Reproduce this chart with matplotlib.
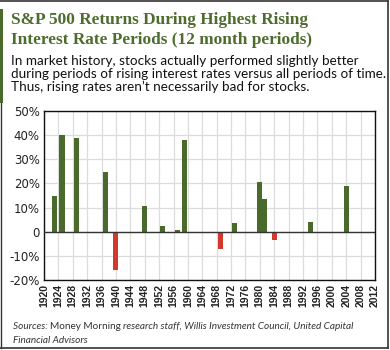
import matplotlib.pyplot as plt
from matplotlib.lines import Line2D
from matplotlib.patches import Rectangle

# 数据：年份与 12 个月回报率（%）
YEARS = [1923, 1925, 1929, 1937, 1940, 1948, 1953, 1957, 1959,
         1969, 1973, 1980, 1981.3, 1984, 1994, 2004]
RETURNS = [15, 40, 38.8, 24.7, -16, 10.5, 2.5, 0.8, 38,
           -7, 3.8, 20.5, 13.5, -3.5, 4.2, 19]
Y_TICKS = [-20, -10, 0, 10, 20, 30, 40, 50]
Y_LABELS = ['-20%', '-10%', '0', '10%', '20%', '30%', '40%', '50%']
X_TICKS = list(range(1920, 2013, 4))

GREEN = '#4a6a2b'
RED = '#d2382c'
W, H = 390, 350


def fy(px):
    return 1 - px / H


fig = plt.figure(figsize=(W / 100, H / 100), dpi=100)

# 标题与说明文字
fig.text(11 / W, fy(24), 'S&P 500 Returns During Highest Rising', family='Liberation Serif',
         weight='bold', size=12.4, color='#4d6c2d', va='baseline')
fig.text(11 / W, fy(44), 'Interest Rate Periods (12 month periods)', family='Liberation Serif',
         weight='bold', size=12.4, color='#4d6c2d', va='baseline')
sub = ['In market history, stocks actually performed slightly better',
       'during periods of rising interest rates versus all periods of time.',
       'Thus, rising rates aren\u2019t necessarily bad for stocks.']
for i, line in enumerate(sub):
    fig.text(11 / W, fy(65 + 13 * i), line, family='Lato', size=9.7, color='#111111', va='baseline')

# 边框与左侧绿色竖条
fig.add_artist(Line2D([0, 1 - 2 / W], [fy(1), fy(1)], color='#333333', lw=1.2))
fig.add_artist(Line2D([1 - 2 / W, 1 - 2 / W], [fy(1), fy(348)], color='#333333', lw=1.2))
fig.add_artist(Line2D([0, 1 - 2 / W], [fy(348), fy(348)], color='#333333', lw=1.2))
fig.add_artist(Line2D([0.5 / W, 0.5 / W], [fy(103), fy(348)], color='#333333', lw=1.0))
fig.add_artist(Rectangle((0, fy(103)), 3.5 / W, (103 - 9) / H, color=GREEN, lw=0))

ax = fig.add_axes([44 / W, fy(280), (375 - 44) / W, (280 - 111) / H])
colors = [GREEN if v >= 0 else RED for v in RETURNS]
ax.bar(YEARS, RETURNS, width=1.4, color=colors, zorder=3)
ax.axhline(0, color='#333333', lw=1.0, zorder=4)
ax.set_xlim(1920, 2012)
ax.set_ylim(-20, 50)
ax.set_xticks(X_TICKS)
ax.set_xticklabels([str(x) for x in X_TICKS], rotation=90, family='Liberation Sans',
                   weight='bold', size=7.5, color='#222222')
ax.set_yticks(Y_TICKS)
ax.set_yticklabels(Y_LABELS, family='DejaVu Sans', size=8.5, color='#222222')
ax.tick_params(length=0, pad=3)
ax.grid(True, color='#dcdcdc', lw=0.9, zorder=0)
for s in ax.spines.values():
    s.set_color('#111111')
    s.set_linewidth(1.0)

# 资料来源（"Money Morning" 为正体，其余为斜体）
FS = 7.2
t1 = fig.text(13 / W, fy(329), 'Sources: ', family='Lato', style='italic', size=FS,
              color='#333333', va='baseline')
fig.canvas.draw()
r = fig.canvas.get_renderer()
bb = t1.get_window_extent(r)
t2 = fig.text(bb.x1 / W, fy(329), 'Money Morning ', family='Lato', size=FS, color='#333333',
              va='baseline')
bb2 = t2.get_window_extent(r)
fig.text(bb2.x1 / W, fy(329), 'research staff, Willis Investment Council, United Capital',
         family='Lato', style='italic', size=FS, color='#333333', va='baseline')
fig.text(13 / W, fy(343), 'Financial Advisors', family='Lato', style='italic', size=FS,
         color='#333333', va='baseline')

fig.savefig('out.png', dpi=100)
